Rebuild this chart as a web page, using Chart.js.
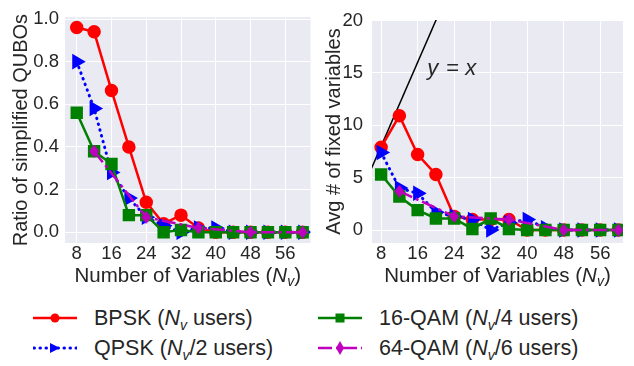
<!DOCTYPE html>
<html>
<head>
<meta charset="utf-8">
<script src="https://cdn.jsdelivr.net/npm/chart.js@4"></script>
<style>
body{margin:0;background:#fff;width:634px;height:366px;overflow:hidden;position:relative;font-family:"Liberation Sans",Arial,sans-serif;color:#262626}
#left{position:absolute;left:0;top:0}
#right{position:absolute;left:320px;top:0}
.leg{position:absolute;height:26px;font-size:21.5px;display:flex;align-items:center;white-space:nowrap}
.leg svg{margin-right:17px}
.leg i{font-style:italic}
.leg sub{font-size:14px;vertical-align:-5px;line-height:0}
</style>
</head>
<body>
<canvas id="left" width="320" height="290"></canvas>
<canvas id="right" width="314" height="290"></canvas>

<div class="leg" style="left:33px;top:305px">
  <svg width="44" height="12"><line x1="0" y1="6" x2="44" y2="6" stroke="#ff0000" stroke-width="2.5"/><circle cx="22" cy="6" r="4.5" fill="#ff0000"/></svg>
  <span>BPSK (<i>N</i><sub><i>v</i></sub> users)</span>
</div>
<div class="leg" style="left:33px;top:335px">
  <svg width="44" height="12"><line x1="1" y1="6" x2="44" y2="6" stroke="#0000ff" stroke-width="3" stroke-dasharray="0.5 5.5" stroke-linecap="round"/><polygon points="17,1 27,6 17,11" fill="#0000ff"/></svg>
  <span>QPSK (<i>N</i><sub><i>v</i></sub>/2 users)</span>
</div>
<div class="leg" style="left:318px;top:305px">
  <svg width="44" height="12"><line x1="0" y1="6" x2="44" y2="6" stroke="#008000" stroke-width="2.5"/><rect x="17.5" y="1.5" width="9" height="9" fill="#008000"/></svg>
  <span>16-QAM (<i>N</i><sub><i>v</i></sub>/4 users)</span>
</div>
<div class="leg" style="left:318px;top:335px">
  <svg width="44" height="14"><line x1="0" y1="7" x2="44" y2="7" stroke="#bf00bf" stroke-width="2.5" stroke-dasharray="14 4 3 4"/><polygon points="22,0 26,7 22,14 18,7" fill="#bf00bf"/></svg>
  <span>64-QAM (<i>N</i><sub><i>v</i></sub>/6 users)</span>
</div>

<script>
// number of variables
const nv = [8, 12, 16, 20, 24, 28, 32, 36, 40, 44, 48, 52, 56, 60]
const nv64 = [12, 24, 36, 48, 60]
const xTicks = [8, 16, 24, 32, 40, 48, 56]
const ratioTicks = [0, 0.2, 0.4, 0.6, 0.8, 1.0]
const fixedTicks = [0, 5, 10, 15, 20]

// left panel: ratio of simplified QUBOs
const ratioBpsk = [0.96, 0.94, 0.665, 0.40, 0.14, 0.04, 0.08, 0.02, 0.0, 0, 0, 0, 0, 0]
const ratioQpsk = [0.80, 0.58, 0.28, 0.16, 0.07, 0.03, 0.0, 0.02, 0.02, 0, 0, 0, 0, 0]
const ratio16 = [0.56, 0.38, 0.32, 0.08, 0.08, 0.0, 0.01, 0.0, 0, 0, 0, 0, 0, 0]
const ratio64 = [0.38, 0.07, 0.02, 0, 0]

// right panel: avg number of fixed variables
const fixedBpsk = [7.9, 10.9, 7.2, 5.3, 1.3, 1.0, 1.0, 1.0, 0, 0, 0, 0, 0, 0]
const fixedQpsk = [7.4, 4.0, 3.5, 1.7, 1.3, 1.0, 0.0, 0.7, 1.0, 0.2, 0, 0, 0, 0]
const fixed16 = [5.3, 3.2, 1.9, 1.1, 1.1, 0.1, 1.1, 0.1, 0, 0, 0, 0, 0, 0]
const fixed64 = [3.7, 1.3, 1.0, 0, 0]
const identityX = [0, 25]

const family = '"Liberation Sans", Arial, sans-serif'
const ink = '#262626'

const pts = (xs, ys) => xs.map((x, i) => ({ x: x, y: ys[i] }))

function thinDiamond(color) {
    const c = document.createElement('canvas')
    c.width = 10; c.height = 13
    const g = c.getContext('2d')
    g.fillStyle = color
    g.beginPath()
    g.moveTo(5, 0); g.lineTo(10, 6.5); g.lineTo(5, 13); g.lineTo(0, 6.5)
    g.closePath(); g.fill()
    return c
}

function seriesSets(bpsk, qpsk, q16, q64) {
    return [
        { data: pts(nv, bpsk), borderColor: '#ff0000', backgroundColor: '#ff0000', borderWidth: 2.5,
          pointStyle: 'circle', pointRadius: 5.5, order: 3 },
        { data: pts(nv, qpsk), borderColor: '#0000ff', backgroundColor: '#0000ff', borderWidth: 3,
          borderDash: [0.5, 5.5], borderCapStyle: 'round', pointStyle: 'triangle', pointRotation: 90, pointRadius: 6, order: 2 },
        { data: pts(nv, q16), borderColor: '#008000', backgroundColor: '#008000', borderWidth: 2.5,
          pointStyle: 'rect', pointRadius: 7, order: 1 },
        { data: pts(nv64, q64), borderColor: '#bf00bf', backgroundColor: '#bf00bf', borderWidth: 2.5,
          borderDash: [14, 4, 3, 4], pointStyle: thinDiamond('#bf00bf'), order: 0 }
    ]
}

const bgPlugin = {
    id: 'bg',
    beforeDraw(chart) {
        const { ctx, chartArea: a } = chart
        ctx.save()
        ctx.fillStyle = '#eaeaf2'
        ctx.fillRect(a.left, a.top, a.right - a.left, a.bottom - a.top)
        ctx.restore()
    }
}

// x title with italic N and subscript v
const xTitlePlugin = {
    id: 'xTitle',
    afterDraw(chart) {
        const { ctx, chartArea: a } = chart
        const parts = [
            ['Number of Variables (', '', 20.5, 0],
            ['N', 'italic ', 20.5, 0],
            ['v', 'italic ', 14, 4],
            [')', '', 20.5, 0]
        ]
        ctx.save()
        ctx.fillStyle = ink
        ctx.textBaseline = 'alphabetic'
        let w = 0
        parts.forEach(p => { ctx.font = p[1] + p[2] + 'px ' + family; w += ctx.measureText(p[0]).width })
        let x = (a.left + a.right) / 2 - w / 2
        parts.forEach(p => {
            ctx.font = p[1] + p[2] + 'px ' + family
            ctx.fillText(p[0], x, 282 + p[3])
            x += ctx.measureText(p[0]).width
        })
        ctx.restore()
    }
}

const yxLabel = {
    id: 'yxLabel',
    afterDatasetsDraw(chart) {
        const { ctx, scales } = chart
        let x = scales.x.getPixelForValue(18.1)
        const y = scales.y.getPixelForValue(14.8)
        ctx.save()
        ctx.fillStyle = ink
        ctx.textBaseline = 'alphabetic'
        const parts = [['y', 'italic '], [' = ', ''], ['x', 'italic ']]
        parts.forEach(p => {
            ctx.font = p[1] + '22px ' + family
            ctx.fillText(p[0], x, y)
            x += ctx.measureText(p[0]).width + (p[0] === ' = ' ? 0 : 2)
        })
        ctx.restore()
    }
}

function makeChart(id, c) {
    return new Chart(document.getElementById(id), {
        type: 'line',
        data: { datasets: c.datasets },
        options: {
            responsive: false,
            animation: false,
            devicePixelRatio: 1,
            layout: { padding: { top: 13, right: c.padRight, left: 0, bottom: 0 } },
            plugins: { legend: { display: false }, tooltip: { enabled: false } },
            scales: {
                x: {
                    type: 'linear', min: c.xMin, max: c.xMax,
                    grid: { color: '#ffffff', lineWidth: 1, drawTicks: false },
                    border: { display: false },
                    ticks: { font: { size: 18.5, family: family }, color: ink, padding: 0 },
                    afterBuildTicks: s => { s.ticks = xTicks.map(v => ({ value: v })) },
                    afterFit: s => { s.height = 47 }
                },
                y: {
                    min: c.yMin, max: c.yMax,
                    grid: { color: '#ffffff', lineWidth: 1, drawTicks: false },
                    border: { display: false },
                    ticks: { font: { size: 18.5, family: family }, color: ink, padding: c.tickPad, callback: c.fmt },
                    afterBuildTicks: s => { s.ticks = c.yTicks.map(v => ({ value: v })) },
                    afterFit: s => { s.width = c.yWidth },
                    title: { display: true, text: c.yTitle, color: ink, font: { size: 20, family: family }, padding: { top: c.titlePad, bottom: 0 } }
                }
            }
        },
        plugins: c.plugins
    })
}

makeChart('left', {
    datasets: seriesSets(ratioBpsk, ratioQpsk, ratio16, ratio64),
    xMin: 5.3, xMax: 61.8, yMin: -0.0507, yMax: 1.009,
    yTicks: ratioTicks, fmt: v => v.toFixed(1),
    padRight: 2, yWidth: 65, tickPad: 6, titlePad: 9,
    yTitle: 'Ratio of simplified QUBOs',
    plugins: [bgPlugin, xTitlePlugin]
})

makeChart('right', {
    datasets: seriesSets(fixedBpsk, fixedQpsk, fixed16, fixed64).concat([
        { data: pts(identityX, identityX), borderColor: '#000000', borderWidth: 1.5, pointRadius: 0, order: 4 }
    ]),
    xMin: 6.0, xMax: 61.0, yMin: -1.24, yMax: 20.03,
    yTicks: fixedTicks, fmt: v => String(v),
    padRight: 11, yWidth: 52, tickPad: 9, titlePad: 2,
    yTitle: 'Avg # of fixed variables',
    plugins: [bgPlugin, xTitlePlugin, yxLabel]
})
</script>
</body>
</html>
